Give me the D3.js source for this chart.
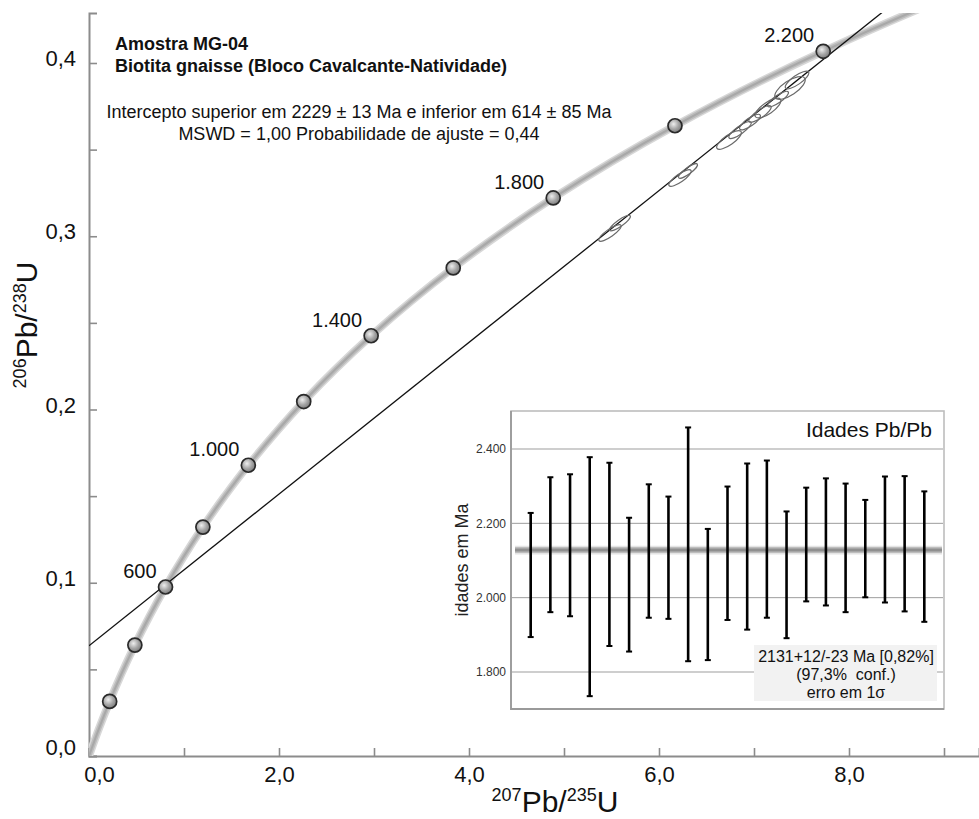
<!DOCTYPE html>
<html>
<head>
<meta charset="utf-8">
<script src="https://cdn.jsdelivr.net/npm/d3@7"></script>
<style>
  html, body { margin: 0; padding: 0; background: #fff; }
  svg { display: block; font-family: "Liberation Sans", Arial, sans-serif; }
</style>
</head>
<body>
<div id="container"></div>
<script>
const WIDTH = 979;
const HEIGHT = 819;

// concordia (age in Ma, 207Pb/235U, 206Pb/238U)
const concAges = [0, 100, 200, 300, 400, 500, 600, 700, 800, 900, 1000, 1200, 1400, 1600, 1800, 2000, 2200, 2400, 2600];
const concX = [0, 0.1035, 0.2177, 0.3437, 0.4828, 0.6363, 0.8056, 0.9925, 1.1987, 1.4262, 1.6773, 2.2602, 2.9699, 3.8342, 4.8866, 6.1681, 7.7286, 9.6288, 11.9427];
const concY = [0, 0.01563, 0.03151, 0.04764, 0.06402, 0.08065, 0.09754, 0.11470, 0.13213, 0.14983, 0.16781, 0.20460, 0.24256, 0.28172, 0.32210, 0.36377, 0.40674, 0.45107, 0.49679];

// age markers and the ones that carry a label
const markerAges = [200, 400, 600, 800, 1000, 1200, 1400, 1600, 1800, 2000, 2200];
const labelAges = [600, 1000, 1400, 1800, 2200];
const labelText = ["600", "1.000", "1.400", "1.800", "2.200"];

// discordia line ends (x, y)
const discordiaX = [0, 8.6];
const discordiaY = [0.0636, 0.4402];

// analyses: centre, 1s errors, error correlation
const ellX = [5.484, 5.589, 6.221, 6.305, 6.737, 6.853, 6.958, 7.063, 7.147, 7.253, 7.379, 7.453];
const ellY = [0.3019, 0.3076, 0.3336, 0.3377, 0.3556, 0.3613, 0.3659, 0.3706, 0.3740, 0.3792, 0.3856, 0.3902];
const ellSx = [0.118, 0.110, 0.118, 0.100, 0.130, 0.118, 0.110, 0.118, 0.136, 0.110, 0.160, 0.124];
const ellSy = [0.0048, 0.0045, 0.0048, 0.0042, 0.0054, 0.0049, 0.0045, 0.0048, 0.0057, 0.0045, 0.0066, 0.0051];
const ellRho = [0.84, 0.86, 0.82, 0.85, 0.78, 0.84, 0.8, 0.82, 0.74, 0.83, 0.7, 0.8];

const xTicks = [0, 1, 2, 3, 4, 5, 6, 7, 8, 9];
const yTicks = [0, 0.05, 0.1, 0.15, 0.2, 0.25, 0.3, 0.35, 0.4];

// inset: Pb/Pb ages (error bar limits, Ma)
const pbMax = [2228, 2324, 2332, 2378, 2363, 2215, 2305, 2272, 2458, 2185, 2299, 2361, 2369, 2232, 2296, 2321, 2307, 2263, 2326, 2327, 2286];
const pbMin = [1894, 1961, 1950, 1735, 1870, 1855, 1946, 1943, 1829, 1832, 1940, 1914, 1946, 1891, 1990, 1979, 1961, 2001, 1987, 1963, 1935];
const pbMean = 2128;
const pbBand = [2120, 2136];
const insetTicks = [1800, 2000, 2200, 2400];

const svg = d3
  .select("#container")
  .append("svg")
  .attr("width", WIDTH)
  .attr("height", HEIGHT);

const defs = svg.append("defs");

const grad = defs
  .append("radialGradient")
  .attr("id", "ball")
  .attr("cx", "40%")
  .attr("cy", "38%")
  .attr("r", "65%");
grad.append("stop").attr("offset", "0%").attr("stop-color", "#eeeeee");
grad.append("stop").attr("offset", "55%").attr("stop-color", "#a6a6a6");
grad.append("stop").attr("offset", "100%").attr("stop-color", "#7a7a7a");

defs
  .append("clipPath")
  .attr("id", "plotclip")
  .append("rect")
  .attr("x", 89)
  .attr("y", 13)
  .attr("width", 890)
  .attr("height", 743);

const xScale = d3.scaleLinear().domain([0, 890 / 95]).range([89, 979]);
const yScale = d3.scaleLinear().domain([0, 743 / 1732.5]).range([756, 13]);

const comma = d => d3.format(".1f")(d).replace(".", ",");

// AXES
const xAxis = d3
  .axisBottom(xScale)
  .tickValues(xTicks)
  .tickSize(-8)
  .tickPadding(10)
  .tickFormat(d => (d % 2 === 0 ? comma(d) : ""));

const gx = svg
  .append("g")
  .attr("class", "x axis")
  .attr("transform", "translate(0,756)")
  .call(xAxis);

const yAxis = d3
  .axisLeft(yScale)
  .tickValues(yTicks)
  .tickSize(-8)
  .tickPadding(13)
  .tickFormat(d => (Math.round(d * 100) % 10 === 0 ? comma(d) : ""));

const gy = svg
  .append("g")
  .attr("class", "y axis")
  .attr("transform", "translate(89,0)")
  .call(yAxis);

[gx, gy].forEach(g => {
  g.attr("font-size", null).attr("font-family", null);
  g.select(".domain").attr("stroke", "#8c8c8c").attr("stroke-width", 2);
  g.selectAll(".tick line").attr("stroke", "#8c8c8c").attr("stroke-width", 1.6);
  g.selectAll(".tick text")
    .attr("fill", "#111")
    .style("font-size", "22px");
});
gx.selectAll(".tick text").filter(d => d === 0).attr("dx", 10);
gy.selectAll(".tick text").attr("dy", "0.12em");
gy.selectAll(".tick text").filter(d => d === 0).attr("dy", "-0.05em");

// axis titles
svg
  .append("text")
  .attr("x", 555)
  .attr("y", 812)
  .attr("text-anchor", "middle")
  .attr("fill", "#111")
  .style("font-size", "30px")
  .html('<tspan font-size="18px" dy="-11">207</tspan><tspan dy="11">Pb/</tspan><tspan font-size="18px" dy="-11">235</tspan><tspan dy="11">U</tspan>');

svg
  .append("text")
  .attr("transform", "translate(37,325) rotate(-90)")
  .attr("text-anchor", "middle")
  .attr("fill", "#111")
  .style("font-size", "30px")
  .html('<tspan font-size="18px" dy="-11">206</tspan><tspan dy="11">Pb/</tspan><tspan font-size="18px" dy="-11">238</tspan><tspan dy="11">U</tspan>');

const plot = svg.append("g").attr("clip-path", "url(#plotclip)");

// concordia band
const concPts = concAges.map((a, i) => [concX[i], concY[i]]);

const lineGen = d3
  .line()
  .x(d => xScale(d[0]))
  .y(d => yScale(d[1]))
  .curve(d3.curveCatmullRom);

[[8, "#d8d8d8"], [5, "#bcbcbc"], [2, "#a8a8a8"]].forEach(([w, c]) => {
  plot
    .append("path")
    .attr("d", lineGen(concPts))
    .attr("fill", "none")
    .attr("stroke", c)
    .attr("stroke-width", w);
});

// discordia
plot
  .append("line")
  .attr("x1", xScale(discordiaX[0]))
  .attr("y1", yScale(discordiaY[0]))
  .attr("x2", xScale(discordiaX[1]))
  .attr("y2", yScale(discordiaY[1]))
  .attr("stroke", "#111")
  .attr("stroke-width", 1.3);

// error ellipses
const kx = xScale(1) - xScale(0);
const ky = yScale(0) - yScale(1);
ellX.forEach((cx, i) => {
  const sX = ellSx[i] * kx;
  const sY = ellSy[i] * ky;
  const a = sX * sX;
  const c = sY * sY;
  const b = -ellRho[i] * sX * sY;
  const mid = (a + c) / 2;
  const rad = Math.sqrt(((a - c) / 2) ** 2 + b * b);
  const rx = Math.sqrt(mid + rad);
  const ry = Math.sqrt(Math.max(mid - rad, 0.5));
  const ang = (0.5 * Math.atan2(2 * b, a - c) * 180) / Math.PI;
  plot
    .append("ellipse")
    .attr("cx", xScale(cx))
    .attr("cy", yScale(ellY[i]))
    .attr("rx", rx)
    .attr("ry", ry)
    .attr("transform", `rotate(${ang},${xScale(cx)},${yScale(ellY[i])})`)
    .attr("fill", "none")
    .attr("stroke", "#6a6a6a")
    .attr("stroke-width", 1.2);
});

// age markers
const markers = markerAges.map(a => {
  const i = concAges.indexOf(a);
  return { age: a, x: concX[i], y: concY[i] };
});

svg
  .selectAll(".dot")
  .data(markers)
  .enter()
  .append("circle")
  .attr("class", "dot")
  .attr("cx", d => xScale(d.x))
  .attr("cy", d => yScale(d.y))
  .attr("r", 7)
  .attr("fill", "url(#ball)")
  .attr("stroke", "#2a2a2a")
  .attr("stroke-width", 1.7);

svg
  .selectAll(".agelabel")
  .data(labelAges)
  .enter()
  .append("text")
  .attr("class", "agelabel")
  .attr("x", d => xScale(concX[concAges.indexOf(d)]) - 9)
  .attr("y", d => yScale(concY[concAges.indexOf(d)]) - 9)
  .attr("text-anchor", "end")
  .attr("fill", "#111")
  .style("font-size", "20px")
  .text((d, i) => labelText[i]);

// header texts
svg
  .append("text")
  .attr("x", 115)
  .attr("y", 50)
  .attr("fill", "#111")
  .style("font-size", "18px")
  .style("font-weight", "bold")
  .text("Amostra MG-04");
svg
  .append("text")
  .attr("x", 115)
  .attr("y", 72)
  .attr("fill", "#111")
  .style("font-size", "18px")
  .style("font-weight", "bold")
  .text("Biotita gnaisse (Bloco Cavalcante-Natividade)");
svg
  .append("text")
  .attr("x", 359)
  .attr("y", 118)
  .attr("text-anchor", "middle")
  .attr("fill", "#111")
  .style("font-size", "18px")
  .text("Intercepto superior em 2229 ± 13 Ma e inferior em 614 ± 85 Ma");
svg
  .append("text")
  .attr("x", 359)
  .attr("y", 140)
  .attr("text-anchor", "middle")
  .attr("fill", "#111")
  .style("font-size", "18px")
  .text("MSWD = 1,00 Probabilidade de ajuste = 0,44");

// INSET
const ix = d3.scaleLinear().domain([0, pbMax.length + 1]).range([511, 944]);
const iy = d3.scaleLinear().domain([1800, 2400]).range([672, 449]);

const inset = svg.append("g").attr("class", "inset");

inset
  .append("rect")
  .attr("x", 511)
  .attr("y", 411)
  .attr("width", 433)
  .attr("height", 298)
  .attr("fill", "#fff")
  .attr("stroke", "#bdbdbd")
  .attr("stroke-width", 1.6);
inset
  .append("path")
  .attr("d", "M511,411V709H944")
  .attr("fill", "none")
  .attr("stroke", "#9a9a9a")
  .attr("stroke-width", 1.8);

inset
  .selectAll(".grid")
  .data(insetTicks)
  .enter()
  .append("line")
  .attr("x1", 512)
  .attr("x2", 943)
  .attr("y1", d => iy(d))
  .attr("y2", d => iy(d))
  .attr("stroke", "#9d9d9d")
  .attr("stroke-width", 1);

inset
  .selectAll(".itick")
  .data(insetTicks)
  .enter()
  .append("text")
  .attr("x", 506)
  .attr("y", d => iy(d))
  .attr("dy", "0.35em")
  .attr("text-anchor", "end")
  .attr("fill", "#333")
  .style("font-size", "12px")
  .text(d => d3.format(",")(d).replace(",", "."));

inset
  .append("text")
  .attr("transform", `translate(468,${(411 + 709) / 2}) rotate(-90)`)
  .attr("text-anchor", "middle")
  .attr("fill", "#222")
  .style("font-size", "18px")
  .text("idades em Ma");

// mean band
[[9, "#e4e4e4"], [6, "#bdbdbd"], [3, "#8f8f8f"]].forEach(([w, c]) => {
  inset
    .append("line")
    .attr("x1", 515)
    .attr("x2", 942)
    .attr("y1", iy(pbMean))
    .attr("y2", iy(pbMean))
    .attr("stroke", c)
    .attr("stroke-width", w * (iy(pbBand[0]) - iy(pbBand[1])) / 6);
});

const bars = inset
  .selectAll(".bar")
  .data(pbMax.map((v, i) => ({ i: i + 1, hi: v, lo: pbMin[i] })))
  .enter()
  .append("g")
  .attr("class", "bar");

bars
  .append("line")
  .attr("x1", d => ix(d.i))
  .attr("x2", d => ix(d.i))
  .attr("y1", d => iy(d.hi))
  .attr("y2", d => iy(d.lo))
  .attr("stroke", "#000")
  .attr("stroke-width", 2.6);
bars
  .append("line")
  .attr("x1", d => ix(d.i) - 3)
  .attr("x2", d => ix(d.i) + 3)
  .attr("y1", d => iy(d.hi))
  .attr("y2", d => iy(d.hi))
  .attr("stroke", "#000")
  .attr("stroke-width", 2);
bars
  .append("line")
  .attr("x1", d => ix(d.i) - 3)
  .attr("x2", d => ix(d.i) + 3)
  .attr("y1", d => iy(d.lo))
  .attr("y2", d => iy(d.lo))
  .attr("stroke", "#000")
  .attr("stroke-width", 2);

inset
  .append("text")
  .attr("x", 932)
  .attr("y", 437)
  .attr("text-anchor", "end")
  .attr("fill", "#111")
  .style("font-size", "21px")
  .text("Idades Pb/Pb");

inset
  .append("rect")
  .attr("x", 754)
  .attr("y", 645)
  .attr("width", 183)
  .attr("height", 56)
  .attr("fill", "#f2f2f2");

const boxLines = ["2131+12/-23 Ma [0,82%]", "(97,3%  conf.)", "erro em 1σ"];
inset
  .selectAll(".boxline")
  .data(boxLines)
  .enter()
  .append("text")
  .attr("x", 846)
  .attr("y", (d, i) => 662 + i * 18)
  .attr("text-anchor", "middle")
  .attr("fill", "#111")
  .style("font-size", "16px")
  .style("white-space", "pre")
  .text(d => d);
</script>
</body>
</html>
